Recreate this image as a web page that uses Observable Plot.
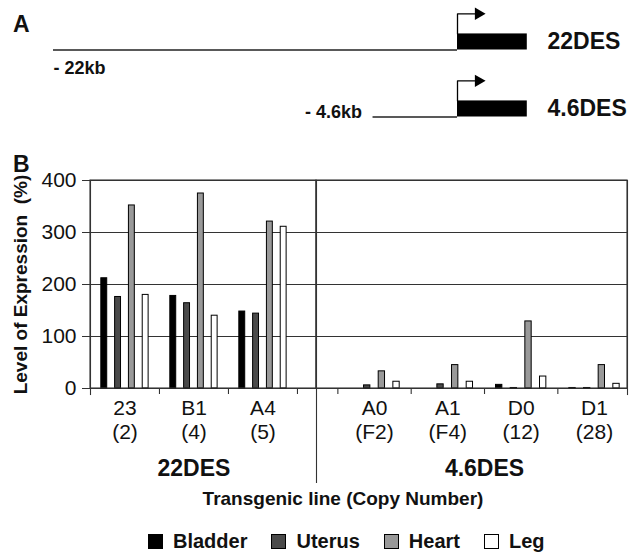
<!DOCTYPE html>
<html>
<head>
<meta charset="utf-8">
<script src="https://cdn.jsdelivr.net/npm/d3@7"></script>
<script src="https://cdn.jsdelivr.net/npm/@observablehq/plot@0.6"></script>
<style>
  body { margin: 0; background: #fff; font-family: "Liberation Sans", Arial, Helvetica, sans-serif; }
  #root { position: relative; width: 634px; height: 553px; overflow: hidden; background: #fff; }
  .abs { position: absolute; }
  .panel-letter { font-weight: bold; font-size: 23px; line-height: 1; color: #111; }
  .xtitle { font-weight: bold; font-size: 19px; line-height: 1; white-space: nowrap; color: #111; transform: translateX(-50%); }
  .legend { display: flex; align-items: center; font-weight: bold; font-size: 20px; line-height: 1; color: #111; white-space: nowrap; }
  .legend .item { display: flex; align-items: center; margin-right: 24px; }
  .legend .sw { width: 13px; height: 13px; border: 1px solid #000; margin-right: 10px; }
</style>
</head>
<body>
<div id="root"></div>
<script>
// ---------------- data ----------------
// Panel A: constructs (promoter length in kb)
const constructs = ["22DES", "4.6DES"];
const promoterKb = [-22, -4.6];
const promoterLabels = ["- 22kb", "- 4.6kb"];
const geneKb = 3.8;      // schematic gene box length (kb)
const arrowKb = 1.14;    // schematic transcription start arrow (kb)

// Panel B: expression levels (%)
const tissues = ["Bladder", "Uterus", "Heart", "Leg"];
const tissueColors = ["#000000", "#4a4a4a", "#999999", "#ffffff"];
const lines22 = ["23", "B1", "A4"];
const copies22 = ["2", "4", "5"];
const lines46 = ["A0", "A1", "D0", "D1"];
const copies46 = ["F2", "F4", "12", "28"];
//                 23   B1   A4   A0  A1  D0   D1
const bladder = [212, 178, 148,   0,  0,   7,  1];
const uterus  = [176, 164, 144,   6,  8,   1,  1];
const heart   = [352, 375, 321,  33, 45, 129, 45];
const leg     = [180, 140, 311,  13, 13,  23,  9];
const yTicks = [0, 100, 200, 300, 400];
const yTitle = "Level of Expression  (%)";
const xTitle = "Transgenic line (Copy Number)";

// ---------------- build ----------------
const FONT = "'Liberation Sans', Arial, Helvetica, sans-serif";
const LINE = "#333";
const root = document.getElementById("root");

// Panel A schematic
const rowsA = constructs.map((c, i) => ({construct: c, row: i, start: promoterKb[i], label: promoterLabels[i]}));
const boxH = 0.24, arrowH = 0.54;
const arrowPts = rowsA.flatMap(d => [
  {construct: d.construct, x: 0, y: d.row - boxH},
  {construct: d.construct, x: 0, y: d.row - arrowH},
  {construct: d.construct, x: arrowKb - 0.2, y: d.row - arrowH}
]);
const plotA = Plot.plot({
  width: 634, height: 130,
  marginLeft: 53, marginRight: 0, marginTop: 0, marginBottom: 0,
  style: {fontFamily: FONT, background: "transparent", overflow: "visible"},
  x: {domain: [-22, 9.638], axis: null},
  y: {domain: [(130 - 49.5) / 67, -49.5 / 67], axis: null},
  marks: [
    Plot.ruleY(rowsA, {y: "row", x1: "start", x2: 0, stroke: "#222", strokeWidth: 1.3}),
    Plot.rect(rowsA, {x1: 0, x2: geneKb, y1: "row", y2: d => d.row - boxH, fill: "#000"}),
    Plot.line(arrowPts, {x: "x", y: "y", z: "construct", stroke: "#000", strokeWidth: 1.3}),
    Plot.dot(rowsA, {x: () => arrowKb, y: d => d.row - arrowH, symbol: "triangle", rotate: 90, r: 4.6, fill: "#000", stroke: "none"}),
    Plot.text(rowsA, {x: () => geneKb + 1.1, y: d => d.row - boxH / 2, text: "construct", textAnchor: "start", fontSize: 23, fontWeight: "bold", fill: "#111"}),
    Plot.text(rowsA.filter(d => d.row === 0), {x: "start", y: "row", text: "label", textAnchor: "start", dy: 18, fontSize: 18, fontWeight: "bold", fill: "#111"}),
    Plot.text(rowsA.filter(d => d.row === 1), {x: "start", y: "row", text: "label", textAnchor: "end", dx: -11, dy: -5, fontSize: 18, fontWeight: "bold", fill: "#111"})
  ]
});
plotA.classList.add("abs");
plotA.style.left = "0px"; plotA.style.top = "0px";
root.appendChild(plotA);

// Panel B
const valueSeries = [bladder, uterus, heart, leg];
const allLines = [...lines22, ...lines46];
const records = allLines.flatMap((line, i) =>
  tissues.map((tissue, j) => ({line, tissue, value: valueSeries[j][i]})));
const blockL = ["pre", "Bladder", "g1", "Uterus", "mid", "Heart", "g2", "Leg", "post", "edge"];
const blockR = ["edge", "pre", "Bladder", "g1", "Uterus", "mid", "Heart", "g2", "Leg", "post"];
const key = (line, slot) => line + "|" + slot;

function panel({lines, copies, group, groupKey, block, width, marginLeft, marginRight, paddingOuter, align, extra}) {
  const recs = records.filter(d => lines.includes(d.line));
  const labels = lines.map((line, i) => ({line, text: `${line}\n(${copies[i]})`}));
  return Plot.plot({
    width, height: 350,
    marginLeft, marginRight, marginTop: 40, marginBottom: 102,
    style: {fontFamily: FONT, background: "transparent", overflow: "visible", color: "#111"},
    x: {type: "band", domain: lines.flatMap(l => block.map(s => key(l, s))), paddingInner: 0, paddingOuter, align, round: false, axis: null},
    y: {domain: [0, 400], axis: null},
    color: {domain: tissues, range: tissueColors},
    marks: [
      Plot.ruleY(yTicks, {stroke: LINE, strokeWidth: 1.1}),
      Plot.barY(recs, {x: d => key(d.line, d.tissue), y: "value", fill: "tissue", stroke: "#000", strokeWidth: 1, insetLeft: 0.5, insetRight: 0.5}),
      Plot.ruleX(lines, {x: d => key(d, "edge"), y1: 0, y2: 0, insetBottom: -6, stroke: LINE, strokeWidth: 1.1}),
      Plot.rect([0], {y1: 0, y2: 400, fill: "none", stroke: LINE, strokeWidth: 1.1}),
      Plot.text(labels, {x: d => key(d.line, "mid"), y: 0, text: "text", lineAnchor: "top", dy: 10, fontSize: 21, lineHeight: 1.13, fill: "#111"}),
      Plot.text([group], {x: () => groupKey, y: 0, text: d => d, lineAnchor: "top", dy: 71, fontSize: 23, fontWeight: "bold", fill: "#111"}),
      ...extra
    ]
  });
}

const left = panel({
  lines: lines22, copies: copies22, group: "22DES", groupKey: key(lines22[1], "mid"), block: blockL,
  width: 316, marginLeft: 90, marginRight: 0, paddingOuter: 1.377, align: 0.18,
  extra: [
    Plot.frame({anchor: "left", insetBottom: -6, stroke: LINE, strokeWidth: 1.1, clip: false}),
    Plot.axisY(yTicks, {tickSize: 8, tickPadding: 6, fontSize: 21, label: null, stroke: LINE}),
    Plot.text([yTitle], {text: d => d, frameAnchor: "left", textAnchor: "middle", rotate: -90, dx: -70, fontSize: 19, fontWeight: "bold", fill: "#111"})
  ]
});
left.classList.add("abs");
left.style.left = "0px"; left.style.top = "140px";
root.appendChild(left);

const right = panel({
  lines: lines46, copies: copies46, group: "4.6DES", groupKey: key(lines46[2], "edge"), block: blockR,
  width: 318, marginLeft: 0, marginRight: 7, paddingOuter: 1.207, align: 1,
  extra: [
    Plot.frame({anchor: "right", insetBottom: -6, stroke: LINE, strokeWidth: 1.1, clip: false}),
    Plot.frame({anchor: "left", insetBottom: -94, stroke: LINE, strokeWidth: 1.1, clip: false})
  ]
});
right.classList.add("abs");
right.style.left = "316px"; right.style.top = "140px";
root.appendChild(right);

// Panel letters
for (const [t, top] of [["A", 12.5], ["B", 152.5]]) {
  const d = document.createElement("div");
  d.className = "abs panel-letter";
  d.style.left = "13px"; d.style.top = top + "px";
  d.textContent = t;
  root.appendChild(d);
}

// x-axis title
const xt = document.createElement("div");
xt.className = "abs xtitle";
xt.style.left = "343px"; xt.style.top = "489px";
xt.textContent = xTitle;
root.appendChild(xt);

// Legend
const lg = document.createElement("div");
lg.className = "abs legend";
lg.style.left = "148px"; lg.style.top = "531px";
tissues.forEach((t, i) => {
  const it = document.createElement("div");
  it.className = "item";
  const sw = document.createElement("span");
  sw.className = "sw";
  sw.style.background = tissueColors[i];
  const tx = document.createElement("span");
  tx.textContent = t;
  it.appendChild(sw); it.appendChild(tx);
  lg.appendChild(it);
});
root.appendChild(lg);
</script>
</body>
</html>
